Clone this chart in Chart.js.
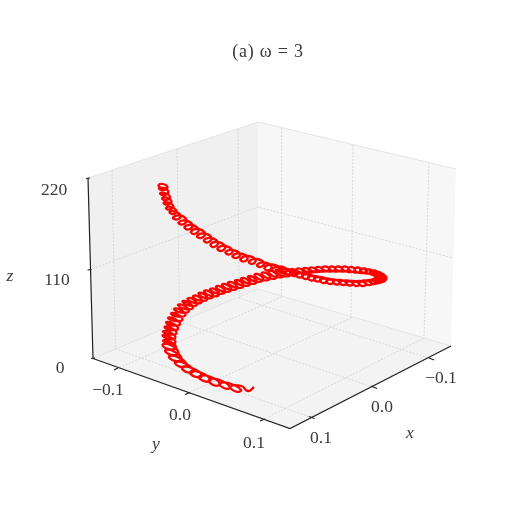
<!DOCTYPE html>
<html>
<head>
<meta charset="utf-8">
<script src="https://cdn.jsdelivr.net/npm/chart.js@4"></script>
<style>
  html, body { margin: 0; padding: 0; background: #fff; }
  canvas { display: block; }
</style>
</head>
<body>
<canvas id="curve3d" width="508" height="512"></canvas>
<script>
// values, in picture units (one turn = 4 points)
const curveX = [254,
  248,241.5,230.5,235.5, 241,230,219.5,225, 230,219.5,209,214.5, 220,209.5,199,205, 210.5,200.5,190,196,
  202,192,182,188, 193.5,184,175,181, 186.5,177.5,169,175, 181.5,173,165,172, 178.5,170.5,162.5,170,
  176,169.5,163,169, 175.5,169,162.5,169, 175.5,169.5,163,170, 176.5,170.5,164.5,171, 178,172,166,173,
  180,174,168,175.5, 182.5,177,171,178, 185.5,180,174,181.5, 189,183.5,178,185.5, 193,187.5,182.5,190,
  197,192,187.5,195, 202,197.5,193,200, 207.5,203,198.5,205.5, 213,208.5,204,211.5, 219,214.5,210,217.5,
  225,220.5,216,223.5, 231,226.5,222,229.5, 237,232.5,228,236, 243.5,239,235,242.5, 250,245.5,241,249,
  256.5,252,248,255.5, 263,259,254.5,262, 270,266,261.5,269, 277,273,268.5,276, 284,280,275.5,283, 291,286.5,282,290,
  296.5,293,290,296.5, 303,299.5,296,303, 309.5,306,303,309.5, 316,312.5,309,316, 322.5,319,315.5,322.5,
  329,325.5,322,329, 335.5,332,329,335.5, 342,338.5,335,342, 348.5,345,342,348.5, 355,351.5,348.5,355,
  361.5,358,354.5,361, 367.5,364,360,366.5, 373,369,365.5,372, 378,374,370,376, 382,378,373.5,379,
  385,380.5,375.5,381, 386.5,381.5,376.5,381.5, 386.5,381,376,380.5, 385,379,373.5,377.5, 382,376,370,373.5,
  377.5,371,365,368.5, 372,365.5,359,362.5, 366,359.5,353,356, 359.5,353,346,349.5, 353,346.5,339.5,343,
  346.5,340,333,336.5, 340,333.5,326.5,330, 333.5,327,320,323.5, 327,320.5,314,317.5, 321,314.5,308,311.5,
  315,308.5,302,305.5, 309,302.5,296,299.5, 303,296.5,290,294, 297.5,291,284.5,288.5, 292,285.5,279,283,
  287,279.5,272,276, 279.5,272,264.5,268, 271.5,264,257,260.5, 264,256.5,249,252, 255.5,248,240.5,244,
  247.5,240,232.5,236.5, 240,232.5,225.5,229, 232.5,225,217.5,221.5, 225,217.5,210.5,214, 218,211,204,207.5,
  211.5,204.5,197,201, 205,198,191,194.5, 198.5,191.5,184.5,188.5, 192.5,185.5,178.5,182.5, 186.5,180,173,177,
  180.5,175,169.5,173, 176.5,171,166,169.5, 173.5,168.5,163.5,167.5, 171.5,166.5,162,166, 170,165,160,164.5,
  168.5,164,159,163, 167.5,163,158.5,163, 167];
const curveY = [387,
  391,386,386.5,391.5, 390,383.5,383.5,388.5, 387,380,380,385.5, 383.5,376.5,376.5,381.5, 379.5,372.5,372,377,
  375,368,367.5,372.5, 370.5,363,362.5,367, 364.5,357,356.5,361, 358.5,351,350.5,355, 352.5,345,345,349.5,
  347,341.5,340.5,343.5, 342,336.5,335.5,339, 337.5,332,331.5,334.5, 333,327.5,327,330, 328.5,323,322.5,325.5,
  324,318.5,318,321, 319.5,314,313.5,316.5, 315,309.5,309,312.5, 311,305.5,305,309, 307.5,302,301.5,305.5,
  304.5,298.5,299,303, 301.5,296,296.5,300.5, 299,293.5,293.5,298, 296.5,291,291.5,296, 294.5,289,289.5,293.5,
  292,286.5,287,291.5, 290,284.5,285,289.5, 288,282.5,283,287.5, 286,280.5,281,285.5, 284,278.5,279,283.5,
  282,276.5,277,281.5, 280,274.5,275,280, 278.5,273,273.5,278.5, 277,271.5,272,277, 275.5,270,271,276, 274.5,269.5,270,275,
  272.5,269,271,273.5, 271.5,268.5,270,273, 271,268,269.5,272.5, 270.5,267.5,269,272, 270,267,268.5,271.5,
  269.5,266.5,268.5,271.5, 269.5,266.5,268.5,271.5, 269.5,266.5,268.5,271.5, 269.5,266.5,268.5,272, 270,267,269,272.5,
  270.5,267.5,270,273, 271,268.5,270.5,273.5, 272,269.5,271.5,274.5, 273,270.5,272.5,276, 274.5,272,274,277.5,
  276,273.5,276,279, 277.5,275,277.5,280.5, 279,276.5,279,282, 280.5,277.5,280,283, 281.5,279,281,284,
  282.5,280,282,285, 283.5,280.5,283,286, 284,281,283,286, 284,281,283,285.5, 283.5,280.5,282.5,285,
  283,280,281.5,284.5, 282.5,279.5,281,284, 281.5,278.5,280,283, 280.5,277,279,281.5, 279,276,277.5,280.5,
  278,274.5,276,279, 276.5,273,275,277.5, 275,271.5,273,276, 273.5,270,272,274.5, 272,268.5,270.5,273,
  270,266.5,269.5,272, 268.5,264.5,267.5,270.5, 266.5,262.5,265,267, 263,259,261.5,264, 260,256,259,261.5,
  257.5,253.5,256,258, 254,250,252,254.5, 250.5,246,248.5,251, 246.5,242,244.5,247, 242.5,238,240,242.5,
  238,233.5,236,238, 233.5,229,231.5,234, 229.5,225,227,229.5, 225,220.5,222.5,224.5, 220,215.5,217.5,219.5,
  215.5,211.5,212,214, 211,207,208,209.5, 206.5,202.5,203,204.5, 201.5,197.5,198.5,200, 197,193,193.5,195,
  192,188,188.5,190, 187.5,184,185.5,188.5, 187.5];

const xTickLabels = ["\u22120.1", "0.0", "0.1"];
const yTickLabels = ["\u22120.1", "0.0", "0.1"];
const zTickLabels = ["220", "110", "0"];

// box corners of the 3d frame
const A = [93, 358.5], B = [258, 289], C = [451, 346], D = [290, 428.5];
const At = [88, 178], Bt = [258, 122], Ct = [456, 169];
const midL = [89.5, 270], midB = [258, 207], midR = [453, 258];

// grid feet, top and floor ends
const wallGridL = [[[112, 170.5], [115.5, 349]], [[177, 149], [179.5, 322]], [[238, 129], [239, 298]]];
const wallGridR = [[[281.5, 128], [281.5, 297]], [[353, 145], [351, 318]], [[429, 162.5], [424, 338]]];
const floorGridX = [[[115.5, 349], [311.5, 417.5]], [[179.5, 322], [374, 387.5]], [[239, 298], [431.5, 359]]];
const floorGridY = [[[116, 369], [281.5, 297]], [[187.5, 393.5], [351, 318]], [[262.5, 420], [424, 338]]];

const xTickMarks = [[[429, 358], [434, 360]], [[371, 386], [377, 388.5]], [[309, 416.5], [314.5, 418.5]]];
const yTickMarks = [[[114, 370], [118, 368]], [[185, 394.5], [190, 392.5]], [[260, 421], [265, 419]]];
const zTickMarks = [[[86, 178.5], [90, 178]], [[87.5, 270], [91.5, 269.5]], [[91, 358.5], [95, 358]]];

function toPts(list) {
  return list.map(function(p) { return { x: p[0], y: p[1] }; });
}

function pane(corners, color) {
  return {
    data: toPts(corners), showLine: true, fill: "shape", backgroundColor: color,
    borderWidth: 0, pointRadius: 0, tension: 0, order: 9
  };
}

function edge(points, color, width, dash, order) {
  return {
    data: toPts(points), showLine: true, fill: false, borderColor: color,
    borderWidth: width, borderDash: dash, pointRadius: 0, tension: 0, order: order
  };
}

const datasets = [
  {
    data: curveX.map(function(x, i) { return { x: x, y: curveY[i] }; }),
    showLine: true, fill: false, borderColor: "#ff0000", borderWidth: 2.3,
    pointRadius: 0, tension: 0.55, order: 1
  },
  pane([A, B, Bt, At, A], "#f0f0f0"),
  pane([B, C, Ct, Bt, B], "#f7f7f7"),
  pane([A, B, C, D, A], "#f3f3f3"),
  edge([At, Bt, Ct], "#dddddd", 0.8, [], 5),
  edge([A, B, C], "#dddddd", 0.8, [], 5),
  edge([midL, midB, midR], "#cfcfcf", 0.8, [2, 1.5], 5),
  edge([A, D, C], "#222222", 1.2, [], 3),
  edge([At, A], "#222222", 1.2, [], 3)
];

wallGridL.concat(wallGridR, floorGridX, floorGridY).forEach(function(line) {
  datasets.push(edge(line, "#cfcfcf", 0.8, [2, 1.5], 5));
});
xTickMarks.concat(yTickMarks, zTickMarks).forEach(function(line) {
  datasets.push(edge(line, "#222222", 1.2, [], 3));
});

// text goes through the same scales as the marks
const textLabels = [
  { s: "(a) \u03c9 = 3", x: 268, y: 52, size: 18, spacing: "0.8px" },
  { s: zTickLabels[0], x: 54, y: 190 },
  { s: zTickLabels[1], x: 57, y: 280 },
  { s: zTickLabels[2], x: 60, y: 368 },
  { s: yTickLabels[0], x: 108, y: 390 },
  { s: yTickLabels[1], x: 180, y: 415 },
  { s: yTickLabels[2], x: 254, y: 443 },
  { s: xTickLabels[0], x: 441, y: 378 },
  { s: xTickLabels[1], x: 382, y: 407 },
  { s: xTickLabels[2], x: 321, y: 438 },
  { s: "x", x: 410, y: 433, italic: true },
  { s: "y", x: 156, y: 444, italic: true },
  { s: "z", x: 10, y: 276, italic: true }
];

const labelPlugin = {
  id: "labels3d",
  afterDraw: function(chart) {
    const ctx = chart.ctx;
    ctx.save();
    ctx.fillStyle = "#3a3a3a";
    ctx.textAlign = "center";
    ctx.textBaseline = "middle";
    textLabels.forEach(function(t) {
      ctx.font = (t.italic ? "italic " : "") + (t.size || 17.5) + "px 'Liberation Serif'";
      ctx.letterSpacing = t.spacing || "0px";
      ctx.fillText(t.s, chart.scales.x.getPixelForValue(t.x), chart.scales.y.getPixelForValue(t.y));
    });
    ctx.restore();
  }
};

new Chart(document.getElementById("curve3d").getContext("2d"), {
  type: "scatter",
  data: { datasets: datasets },
  options: {
    responsive: false,
    animation: false,
    layout: { padding: 0 },
    scales: {
      x: { type: "linear", min: 0, max: 508, display: false },
      y: { type: "linear", min: 0, max: 512, reverse: true, display: false }
    },
    plugins: {
      legend: { display: false },
      tooltip: { enabled: false }
    }
  },
  plugins: [labelPlugin]
});
</script>
</body>
</html>
